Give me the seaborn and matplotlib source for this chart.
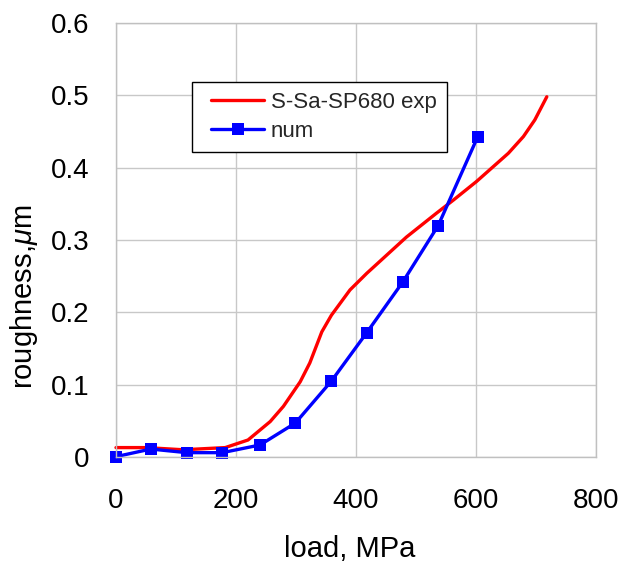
import matplotlib
matplotlib.use("Agg")
import matplotlib.pyplot as plt
import seaborn as sns
import pandas as pd
from matplotlib.lines import Line2D
from matplotlib.legend_handler import HandlerLine2D

# experimental curve
exp_load = [0, 50, 112, 182, 220, 257, 279, 307, 323, 343, 359, 390, 418, 484, 534, 562, 601, 654, 679, 698, 718]
exp_rough = [0.013, 0.013, 0.010, 0.013, 0.0235, 0.049, 0.070, 0.104, 0.130, 0.173, 0.196, 0.231, 0.254, 0.304, 0.337, 0.355, 0.381, 0.420, 0.443, 0.466, 0.498]

# numerical
num_load = [0, 58, 118, 177, 240, 299, 359, 418, 478, 537, 603]
num_rough = [0.0005, 0.011, 0.006, 0.006, 0.0166, 0.047, 0.105, 0.172, 0.242, 0.320, 0.443]

sns.set_theme(style="whitegrid")
plt.rcParams['font.family'] = ['Liberation Sans', 'DejaVu Sans']
plt.rcParams['mathtext.fontset'] = 'custom'
plt.rcParams['mathtext.it'] = 'Liberation Sans:italic'
plt.rcParams['mathtext.rm'] = 'Liberation Sans'

fig = plt.figure(figsize=(6.22, 5.63), dpi=100)
ax = fig.add_axes([116/622, 1-457/563, 480/622, 434/563])

df_exp = pd.DataFrame({"load": exp_load, "rough": exp_rough})
df_num = pd.DataFrame({"load": num_load, "rough": num_rough})

sns.lineplot(data=df_exp, x="load", y="rough", ax=ax, color="#ff0000", lw=2.4,
             sort=False, estimator=None, label="S-Sa-SP680 exp", clip_on=False)
sns.lineplot(data=df_num, x="load", y="rough", ax=ax, color="#0000ff", lw=2.4,
             marker="s", markersize=8, markeredgewidth=0, sort=False, estimator=None,
             label="num", clip_on=False)

ax.set_xlim(0, 800)
ax.set_ylim(0, 0.6)
ax.set_xticks([0, 200, 400, 600, 800])
ax.set_yticks([0, 0.1, 0.2, 0.3, 0.4, 0.5, 0.6])
ax.set_yticklabels(["0", "0.1", "0.2", "0.3", "0.4", "0.5", "0.6"])
ax.grid(True, color="#c8c8c8", lw=1)
ax.set_axisbelow(True)
for s in ax.spines.values():
    s.set_color("#c0c0c0")
    s.set_linewidth(1)
ax.tick_params(axis="both", labelsize=20, colors="black", length=0)
ax.tick_params(axis="x", pad=22)
ax.tick_params(axis="y", pad=19)
ax.set_xlabel("load, MPa", fontsize=21, color="black")
ax.set_ylabel(r"roughness,$\mu$m", fontsize=21, color="black")
ax.xaxis.set_label_coords((350-116)/480, (457-535)/434)
ax.yaxis.set_label_coords((8-116)/480, (457-297)/434)
ax.yaxis.label.set_verticalalignment("top")

leg = ax.legend(loc="upper left", bbox_to_anchor=((192-116)/480, (457-82)/434), fontsize=16,
                frameon=True, fancybox=False, framealpha=1, edgecolor="black",
                handlelength=2.8, handletextpad=0.3, borderpad=0.45, labelspacing=0.35,
                borderaxespad=0, handler_map={Line2D: HandlerLine2D(xpad=0.4)})
leg.get_frame().set_linewidth(1)

fig.savefig("out.png", dpi=100)
